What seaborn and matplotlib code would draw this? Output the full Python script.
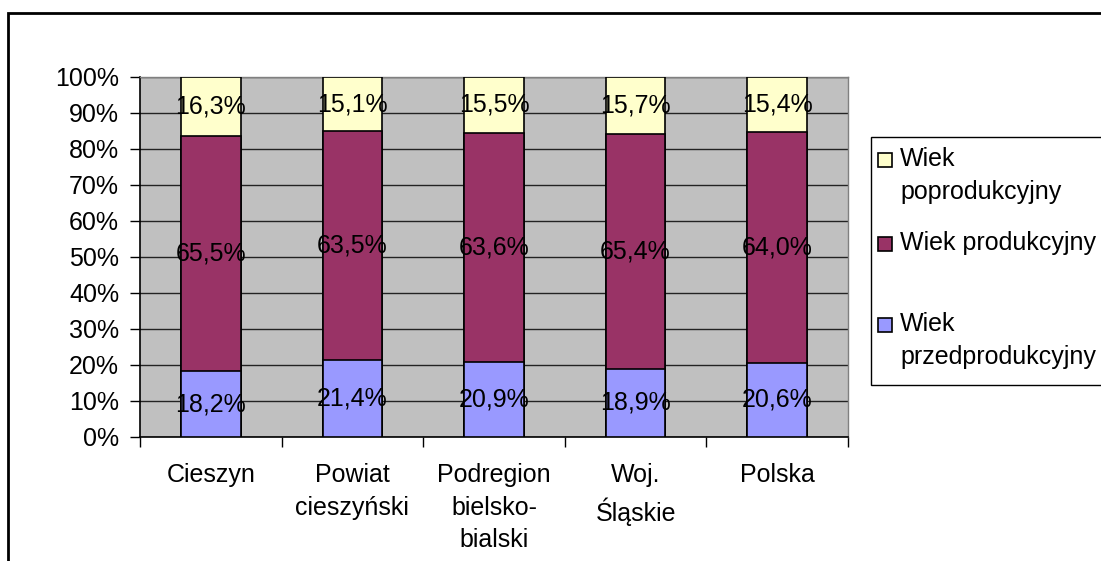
import numpy as np
import pandas as pd
import matplotlib
matplotlib.use("Agg")
import matplotlib.pyplot as plt
import matplotlib.patches as mpatches
import seaborn as sns

# data (percent of population)
categories = ["Cieszyn", "Powiat\ncieszyński", "Podregion\nbielsko-\nbialski", "Woj.\nŚląskie", "Polska"]
przed = [18.2, 21.4, 20.9, 18.9, 20.6]
prod = [65.5, 63.5, 63.6, 65.4, 64.0]
po = [16.3, 15.1, 15.5, 15.7, 15.4]
series_names = ["Wiek\npoprodukcyjny", "Wiek produkcyjny", "Wiek\nprzedprodukcyjny"]
colors = ["#FFFFCC", "#993366", "#9999FF"]

sns.set_style("white")
plt.rcParams["font.family"] = ["Liberation Sans", "DejaVu Sans"]
plt.rcParams["text.color"] = "black"
plt.rcParams["xtick.color"] = "black"
plt.rcParams["ytick.color"] = "black"
FS = 18

df = pd.DataFrame({"cat": categories, "przed": przed, "prod": prod, "po": po})
df["c1"] = df["przed"]
df["c2"] = df["przed"] + df["prod"]
df["c3"] = df["c2"] + df["po"]

fig = plt.figure(figsize=(11.01, 5.61), dpi=100)
ax = fig.add_axes([140 / 1101, 1 - 437 / 561, 708 / 1101, 360 / 561])
ax.set_facecolor("#C0C0C0")

# stacked bars drawn back to front using cumulative heights
for col, c in zip(["c3", "c2", "c1"], colors):
    sns.barplot(data=df, x="cat", y=col, color=c, width=0.42, edgecolor="black",
                linewidth=1.2, saturation=1, ax=ax, zorder=3)

# value labels centred in each segment
for i, row in df.iterrows():
    for lo, h in [(0, row["przed"]), (row["c1"], row["prod"]), (row["c2"], row["po"])]:
        ax.text(i, lo + h / 2, f"{h:.1f}%".replace(".", ","), ha="center", va="center",
                fontsize=FS, color="black", zorder=5)

ax.set_xlim(-0.5, 4.5)
ax.set_ylim(0, 100)
ax.set_yticks(np.arange(0, 101, 10))
ax.set_yticklabels([f"{v}%" for v in range(0, 101, 10)], fontsize=FS)
ax.yaxis.grid(True, color="#222222", linewidth=1, zorder=0)
ax.set_axisbelow(True)

ax.set_xticks(np.arange(-0.5, 5, 1))
ax.set_xticklabels([])
ax.set_xticks(np.arange(5), minor=True)
ax.set_xticklabels(categories, minor=True, fontsize=FS, linespacing=1.45, va="top")
ax.tick_params(axis="x", which="minor", length=0, pad=19)
ax.tick_params(axis="x", which="major", direction="out", length=7, width=1, color="black", bottom=True)
ax.tick_params(axis="y", direction="out", length=7, width=1, color="black", left=True, pad=8)
ax.set_xlabel("")
ax.set_ylabel("")

for s in ["left", "bottom"]:
    ax.spines[s].set_color("black")
    ax.spines[s].set_linewidth(1.2)
for s in ["top", "right"]:
    ax.spines[s].set_color("#808080")
    ax.spines[s].set_linewidth(1)

# outer chart frame (right and bottom edges fall outside the picture)
fig.patches.append(mpatches.Rectangle((8 / 1101, -0.1), 1.2, 1 - 13 / 561 + 0.1,
                                      transform=fig.transFigure, fill=False,
                                      edgecolor="black", linewidth=2))

# legend box, drawn by hand like the spreadsheet legend
W, H = 1101, 561
fig.patches.append(mpatches.Rectangle((871 / W, 1 - 385 / H), 0.3, 248 / H,
                                      transform=fig.transFigure, fill=True, facecolor="white",
                                      edgecolor="black", linewidth=1))
entry_y = [160, 244, 325]
for name, c, yy in zip(series_names, colors, entry_y):
    fig.patches.append(mpatches.Rectangle((878 / W, 1 - (yy + 7) / H), 14 / W, 14 / H,
                                          transform=fig.transFigure, facecolor=c,
                                          edgecolor="black", linewidth=1.2))
    fig.text(900 / W, 1 - (yy - 13) / H, name, fontsize=FS, va="top", ha="left",
             linespacing=1.45)

fig.savefig("out.png", dpi=100)
